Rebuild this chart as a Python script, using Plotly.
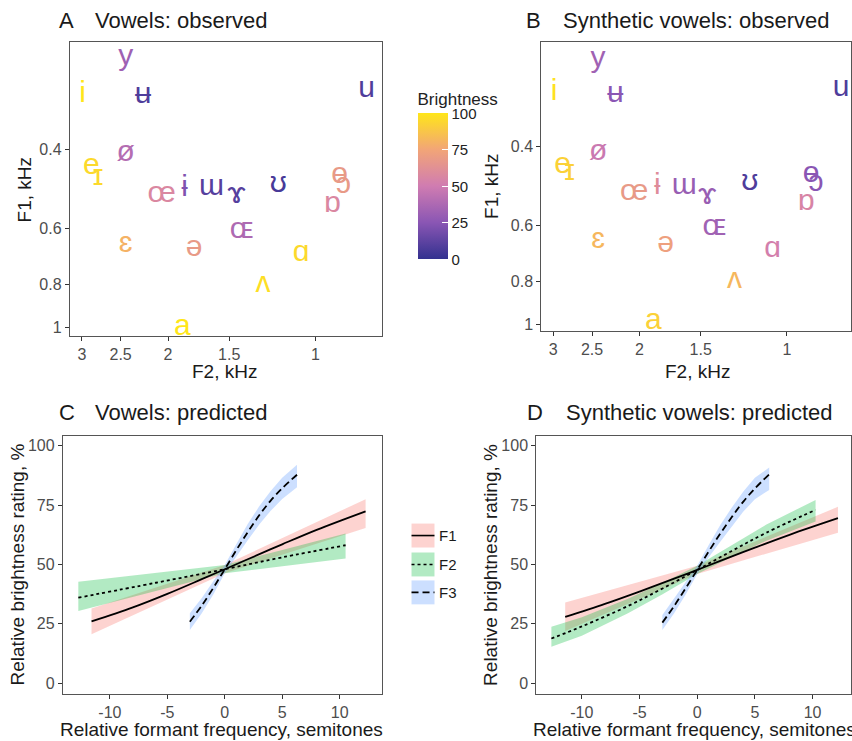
import plotly.graph_objects as go
from plotly.colors import sample_colorscale

W, H = 852, 741

# ---------------- data: observed vowels ----------------
vowels = ['i', 'y', 'ɨ', 'ʉ', 'ɯ', 'u', 'ɪ', 'ʊ', 'e', 'ø', 'ɵ', 'ɔ', 'ɤ', 'ə', 'ɛ', 'œ', 'ʌ', 'a', 'ɶ', 'ɑ', 'ɒ']

a_f2 = [2.99, 2.44, 1.85, 2.25, 1.63, 0.786, 2.78, 1.19, 2.87, 2.44, 0.892, 0.876, 1.45, 1.77, 2.44, 2.06, 1.28, 1.87, 1.415, 1.07, 0.922]
a_f1 = [0.301, 0.249, 0.489, 0.303, 0.486, 0.294, 0.462, 0.479, 0.436, 0.408, 0.457, 0.481, 0.507, 0.665, 0.652, 0.504, 0.800, 1.0, 0.607, 0.683, 0.531]
a_bright = [100, 32, 22, 8, 10, 8, 95, 6, 95, 40, 68, 68, 10, 68, 80, 57, 97, 100, 38, 95, 57]

b_f2 = [2.99, 2.43, 1.84, 2.24, 1.62, 0.775, 2.78, 1.19, 2.87, 2.43, 0.892, 0.872, 1.455, 1.77, 2.43, 2.05, 1.28, 1.875, 1.407, 1.07, 0.913]
b_f1 = [0.303, 0.255, 0.491, 0.306, 0.491, 0.297, 0.457, 0.481, 0.441, 0.412, 0.462, 0.484, 0.517, 0.662, 0.648, 0.507, 0.796, 0.983, 0.607, 0.679, 0.533]
b_bright = [98, 33, 60, 25, 30, 8, 92, 8, 92, 48, 25, 25, 30, 72, 82, 68, 82, 92, 33, 52, 55]

f2_ticks = [1, 1.5, 2, 2.5, 3]
f2_ticktext = ['1', '1.5', '2', '2.5', '3']
f1_ticks = [0.4, 0.6, 0.8, 1]
f1_ticktext = ['0.4', '0.6', '0.8', '1']
bright_ticks = [0, 25, 50, 75, 100]

# ---------------- data: predicted ----------------
c_f1_x = [-11.6, -8, -5, -2, 0, 2, 5, 8, 12.26]
c_f1_fit = [26.0, 31.9, 37.6, 43.8, 48.0, 52.2, 58.5, 64.6, 72.4]
c_f1_lo = [20.6, 28.6, 35.2, 41.9, 46.3, 49.4, 54.1, 58.8, 65.4]
c_f1_hi = [31.5, 37.2, 41.9, 46.6, 49.8, 54.3, 61.1, 67.9, 77.5]

c_f2_x = [-12.75, -6, 0, 5, 10.52]
c_f2_fit = [36.0, 42.3, 48.0, 53.0, 58.1]
c_f2_lo = [30.4, 38.8, 46.3, 49.2, 52.5]
c_f2_hi = [42.7, 46.5, 49.8, 56.1, 63.0]

c_f3_x = [-3.04, -2, -1, 0, 1, 2, 3, 4, 5, 6.29]
c_f3_fit = [25.9, 32.7, 40.1, 48.0, 56.0, 63.6, 70.7, 76.9, 82.1, 87.8]
c_f3_lo = [22.4, 29.5, 37.3, 46.3, 53.5, 60.2, 66.8, 72.6, 77.6, 82.5]
c_f3_hi = [29.5, 35.9, 42.9, 49.8, 58.5, 67.0, 74.5, 81.0, 86.5, 92.0]

d_f1_x = [-11.44, -8, -5, -2, 0, 2, 5, 8, 12.2]
d_f1_fit = [27.9, 33.4, 38.6, 44.0, 47.7, 51.5, 57.1, 62.5, 69.5]
d_f1_lo = [22.0, 29.2, 35.5, 41.8, 46.0, 48.9, 53.1, 57.4, 63.4]
d_f1_hi = [34.0, 38.7, 42.7, 46.8, 49.5, 53.6, 59.7, 65.8, 74.3]

d_f2_x = [-12.64, -10, -6, -3, 0, 3, 6, 10.26]
d_f2_fit = [18.8, 23.9, 32.5, 39.9, 47.7, 55.7, 63.4, 73.0]
d_f2_lo = [15.3, 20.0, 29.4, 37.5, 46.0, 53.2, 60.0, 68.1]
d_f2_hi = [23.8, 27.8, 35.6, 42.3, 49.5, 58.2, 66.8, 77.2]

d_f3_x = [-3.02, -2, -1, 0, 1, 2, 3, 4, 5, 6.24]
d_f3_fit = [25.5, 32.5, 40.0, 47.7, 55.5, 63.0, 70.0, 76.5, 82.0, 88.0]
d_f3_lo = [22.4, 29.4, 37.3, 46.0, 53.0, 59.6, 66.2, 72.3, 77.5, 81.4]
d_f3_hi = [28.7, 35.7, 42.8, 49.5, 58.2, 66.6, 74.0, 80.7, 86.5, 90.9]

sem_ticks = [-10, -5, 0, 5, 10]
sem_ticktext = ['-10', '-5', '0', '5', '10']
rating_ticks = [0, 25, 50, 75, 100]

formants = ['F1', 'F2', 'F3']

# ---------------- styles ----------------
FONT = 'Liberation Sans, Arial, DejaVu Sans, sans-serif'
colorscale = [[0.0, '#33318f'], [0.25, '#8a56b4'], [0.5, '#d07cb1'],
              [0.75, '#f2a577'], [1.0, '#ffe619']]
ribbon_col = {'F1': 'rgba(248,118,109,0.32)', 'F2': 'rgba(0,186,56,0.30)', 'F3': 'rgba(97,156,255,0.32)'}
dash_style = {'F1': 'solid', 'F2': '3px,3px', 'F3': '7px,4px'}


def px_x(p):
    return p / W


def px_y(p):
    return 1 - p / H


fig = go.Figure()


def vowel_traces(f2, f1, bright, xa, ya, showscale):
    cols = sample_colorscale(colorscale, [v / 100 for v in bright])
    fig.add_trace(go.Scatter(
        x=f2, y=f1, mode='text', text=vowels, textposition='middle center',
        textfont=dict(family=FONT, size=30, color=cols),
        xaxis=xa, yaxis=ya, showlegend=False, hoverinfo='skip', cliponaxis=True))
    if showscale:
        fig.add_trace(go.Scatter(
            x=f2, y=f1, mode='markers', xaxis=xa, yaxis=ya, showlegend=False,
            hoverinfo='skip',
            marker=dict(color=bright, colorscale=colorscale, cmin=0, cmax=100, opacity=0, size=1,
                        showscale=True,
                        colorbar=dict(x=px_x(418), xanchor='left', xpad=0,
                                      y=px_y(260), yanchor='bottom', ypad=0,
                                      len=170, lenmode='pixels', thickness=30, thicknessmode='pixels',
                                      outlinewidth=0, ticks='inside', ticklen=6, tickwidth=1,
                                      tickcolor='white', tickvals=bright_ticks,
                                      tickfont=dict(family=FONT, size=15, color='#222222'),
                                      title=dict(text='Brightness', side='top',
                                                 font=dict(family=FONT, size=17, color='#222222'))))))


vowel_traces(a_f2, a_f1, a_bright, 'x', 'y', True)
vowel_traces(b_f2, b_f1, b_bright, 'x2', 'y2', False)


def pred_traces(xa, ya, series):
    for name, xs, fit, lo, hi in series:
        fig.add_trace(go.Scatter(
            x=list(xs) + list(xs)[::-1], y=list(hi) + list(lo)[::-1],
            fill='toself', fillcolor=ribbon_col[name], line=dict(width=0),
            mode='lines', xaxis=xa, yaxis=ya, showlegend=False, hoverinfo='skip'))
    for name, xs, fit, lo, hi in series:
        fig.add_trace(go.Scatter(
            x=xs, y=fit, mode='lines', line=dict(color='black', width=1.8, dash=dash_style[name], shape='spline'),
            xaxis=xa, yaxis=ya, showlegend=False, hoverinfo='skip'))


pred_traces('x3', 'y3', [('F1', c_f1_x, c_f1_fit, c_f1_lo, c_f1_hi),
                         ('F2', c_f2_x, c_f2_fit, c_f2_lo, c_f2_hi),
                         ('F3', c_f3_x, c_f3_fit, c_f3_lo, c_f3_hi)])
pred_traces('x4', 'y4', [('F1', d_f1_x, d_f1_fit, d_f1_lo, d_f1_hi),
                         ('F2', d_f2_x, d_f2_fit, d_f2_lo, d_f2_hi),
                         ('F3', d_f3_x, d_f3_fit, d_f3_lo, d_f3_hi)])

axis_common = dict(showgrid=False, zeroline=False, showline=True, mirror=True,
                   linecolor='#555555', linewidth=1.2, ticks='outside', ticklen=4,
                   tickcolor='#333333', tickwidth=1,
                   tickfont=dict(family=FONT, size=16, color='#4d4d4d'))

fig.update_layout(
    width=W, height=H, margin=dict(l=0, r=0, t=0, b=0),
    paper_bgcolor='white', plot_bgcolor='white', showlegend=False,
    xaxis=dict(axis_common, type='log', range=[0.5015, -0.1352], domain=[px_x(70), px_x(382)],
               tickvals=f2_ticks, ticktext=f2_ticktext, anchor='y'),
    yaxis=dict(axis_common, type='log', range=[0.0194, -0.639], domain=[px_y(337), px_y(42)],
               tickvals=f1_ticks, ticktext=f1_ticktext, anchor='x'),
    xaxis2=dict(axis_common, type='log', range=[0.5015, -0.131], domain=[px_x(542), 1.0],
                tickvals=f2_ticks, ticktext=f2_ticktext, anchor='y2'),
    yaxis2=dict(axis_common, type='log', range=[0.0149, -0.6324], domain=[px_y(332), px_y(42)],
                tickvals=f1_ticks, ticktext=f1_ticktext, anchor='x2'),
    xaxis3=dict(axis_common, range=[-14.09, 13.65], domain=[px_x(63), px_x(382)],
                tickvals=sem_ticks, ticktext=sem_ticktext, anchor='y3'),
    yaxis3=dict(axis_common, range=[-4.62, 104.2], domain=[px_y(696), px_y(437)],
                tickvals=rating_ticks, anchor='x3'),
    xaxis4=dict(axis_common, range=[-13.94, 13.33], domain=[px_x(537), 1.0],
                tickvals=sem_ticks, ticktext=sem_ticktext, anchor='y4'),
    yaxis4=dict(axis_common, range=[-4.62, 104.2], domain=[px_y(696), px_y(437)],
                tickvals=rating_ticks, anchor='x4'),
)

annotations = []


def ann(text, x, y, size, color='#1a1a1a', xanchor='center', angle=0):
    annotations.append(dict(text=text, x=px_x(x), y=px_y(y), xref='paper', yref='paper',
                            showarrow=False, xanchor=xanchor, yanchor='middle', textangle=angle,
                            font=dict(family=FONT, size=size, color=color)))


# panel titles
ann('A', 57, 21, 22, xanchor='left')
ann('Vowels: observed', 93, 21, 22, xanchor='left')
ann('B', 525, 21, 22, xanchor='left')
ann('Synthetic vowels: observed', 562, 21, 22, xanchor='left')
ann('C', 57, 414, 22, xanchor='left')
ann('Vowels: predicted', 93, 414, 22, xanchor='left')
ann('D', 526, 414, 22, xanchor='left')
ann('Synthetic vowels: predicted', 565, 414, 22, xanchor='left')

# axis titles
ann('F1, kHz', 25, 190, 19, angle=-90)
ann('F2, kHz', 225, 373, 19)
ann('F1, kHz', 492, 187, 19, angle=-90)
ann('F2, kHz', 698, 373, 19)
ann('Relative brightness rating, %', 17, 566, 19, angle=-90)
ann('Relative formant frequency, semitones', 222, 731, 19)
ann('Relative brightness rating, %', 491, 566, 19, angle=-90)
ann('Relative formant frequency, semitones', 695, 731, 19)

# legend (manual keys)
shapes = []
key_y = [537, 566, 594]
for name, yc in zip(formants, key_y):
    shapes.append(dict(type='rect', xref='paper', yref='paper',
                       x0=px_x(412), x1=px_x(435), y0=px_y(yc + 12), y1=px_y(yc - 12),
                       fillcolor=ribbon_col[name], line=dict(width=0)))
    shapes.append(dict(type='line', xref='paper', yref='paper',
                       x0=px_x(412), x1=px_x(435), y0=px_y(yc), y1=px_y(yc),
                       line=dict(color='black', width=1.6, dash=dash_style[name])))
    ann(name, 438, yc, 15, xanchor='left')

fig.update_layout(annotations=annotations, shapes=shapes)

fig.write_html('out.html', config={'displayModeBar': False},
               post_script="document.body.style.margin='0';document.body.style.padding='0';")
